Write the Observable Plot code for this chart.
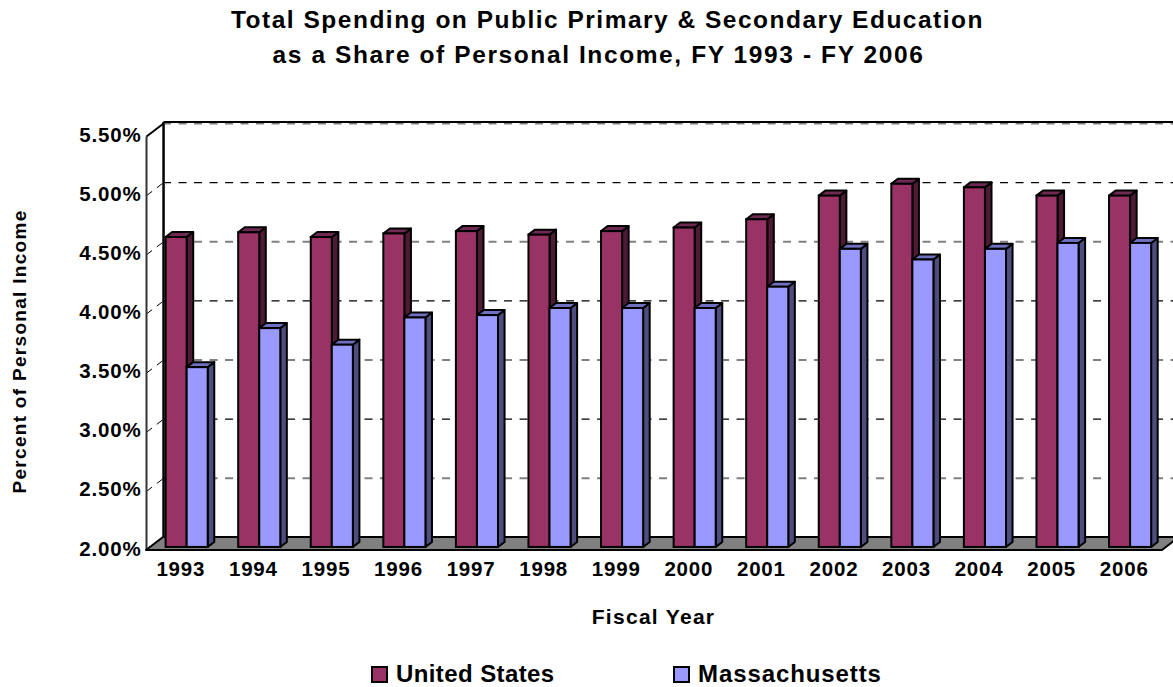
<!DOCTYPE html>
<html><head><meta charset="utf-8">
<script src="https://cdn.jsdelivr.net/npm/d3@7"></script>
<script src="https://cdn.jsdelivr.net/npm/@observablehq/plot@0.6"></script>
<style>
html,body{margin:0;padding:0;background:#fff;width:1173px;height:687px;overflow:hidden}
body{font-family:"Liberation Sans",Arial,sans-serif;font-weight:700;color:#000}
#title{height:80px;text-align:center;font-size:24.5px;line-height:35px;letter-spacing:1.5px;box-sizing:border-box;position:relative;top:2px}
#title span{position:relative;display:block;white-space:nowrap}
#legend{position:relative;height:47px}
.k{position:absolute;top:21px;font-size:24px;line-height:26px;white-space:nowrap;letter-spacing:.4px}
.k i{position:absolute;left:-25px;top:5px;width:13px;height:13px;border:2px solid #000;box-sizing:content-box}
g[aria-label="y-axis tick label"] text,g[aria-label="x-axis tick label"] text{letter-spacing:.8px}
g[aria-label="text"] text{letter-spacing:1.3px}
</style></head><body>
<div id="title"><span style="left:21px">Total Spending on Public Primary &amp; Secondary Education</span><span style="left:12px;letter-spacing:1.6px">as a Share of Personal Income, FY 1993 - FY 2006</span></div>
<div id="chart"></div>
<div id="legend">
<span class="k" style="left:396px"><i style="background:#993366"></i>United States</span>
<span class="k" style="left:698px;letter-spacing:.9px"><i style="background:#9999ff"></i>Massachusetts</span>
</div>
<script>
const years = [1993,1994,1995,1996,1997,1998,1999,2000,2001,2002,2003,2004,2005,2006];
const unitedStates = [4.62,4.66,4.62,4.65,4.67,4.64,4.67,4.70,4.77,4.97,5.07,5.04,4.97,4.97];
const massachusetts = [3.52,3.85,3.71,3.94,3.96,4.02,4.02,4.02,4.20,4.52,4.43,4.52,4.57,4.57];
const yTicks = [2,2.5,3,3.5,4,4.5,5,5.5];
const blackGrid = [3,4,5];
const grayGrid = [2.5,3.5,4.5,5.5];

const DX = 0.235, DY = 0.11;           // full depth of the chart box in scale units
const barW = 0.29, gap = 0.215;        // bar width and side gap in category units
const d0 = 0.235, d1 = 0.62;           // near and far depth of a bar (fraction of box depth)
const BASE = 2, N = years.length;

function faces(values, offset){
  const front=[], side=[], top=[];
  values.forEach((v,i)=>{
    const xa=i+gap+offset*barW, xb=xa+barW;
    front.push({x1:xa+d0*DX,x2:xb+d0*DX,y1:BASE+d0*DY,y2:v+d0*DY});
    [d0,d1].forEach(d=>side.push({k:i,x:xb+d*DX,y1:BASE+d*DY,y2:v+d*DY}));
    [d0,d1].forEach(d=>top.push({k:i,y:v+d*DY,x1:xa+d*DX,x2:xb+d*DX}));
  });
  return {front,side,top};
}
const sw = 2;
function barMarks(values, offset, cFront, cSide, cTop){
  const f = faces(values, offset);
  return [
    Plot.areaY(f.side,{x:"x",y1:"y1",y2:"y2",z:"k",fill:cSide,stroke:"#000",strokeWidth:sw}),
    Plot.areaX(f.top,{y:"y",x1:"x1",x2:"x2",z:"k",fill:cTop,stroke:"#000",strokeWidth:sw}),
    Plot.rect(f.front,{x1:"x1",x2:"x2",y1:"y1",y2:"y2",fill:cFront,stroke:"#000",strokeWidth:sw})
  ];
}
const gridTicks = yTicks.filter(t=>t>BASE);
const plot = Plot.plot({
  width:1173, height:560,
  marginLeft:146, marginRight:11, marginTop:56, marginBottom:90,
  style:{fontFamily:"'Liberation Sans',Arial,sans-serif",background:"transparent",overflow:"hidden"},
  x:{domain:[0,N],axis:null},
  y:{domain:[2,5.5],axis:null},
  marks:[
    // side-wall diagonal grid stubs
    Plot.link(gridTicks.filter(t=>t<5.5),{x1:0,y1:d=>d,x2:DX,y2:d=>d+DY,stroke:"#000",strokeWidth:1,strokeDasharray:"7 6"}),
    // back wall grid
    Plot.ruleY(blackGrid,{y:d=>d+DY,x1:DX,x2:N+DX,stroke:"#000",strokeWidth:1.2,strokeDasharray:"8 7.5"}),
    Plot.ruleY(grayGrid,{y:d=>d+DY,x1:DX,x2:N+DX,stroke:"#808080",strokeWidth:2,strokeDasharray:"8 7.5"}),
    // back wall outline
    Plot.link([0],{x1:DX,x2:N+DX,y1:5.5+DY+.012,y2:5.5+DY+.012,stroke:"#000",strokeWidth:2}),
    Plot.link([0],{x1:DX,x2:DX,y1:2+DY,y2:5.5+DY+.012,stroke:"#000",strokeWidth:2.5}),
    // left side wall edges
    Plot.link([0],{x1:0,x2:0,y1:2,y2:5.5,stroke:"#333",strokeWidth:2}),
    Plot.link([0],{x1:0,x2:DX,y1:5.5,y2:5.5+DY,stroke:"#000",strokeWidth:2}),
    // floor
    Plot.areaX([{y:2,x1:0,x2:N},{y:2+DY,x1:DX,x2:N+DX}],{y:"y",x1:"x1",x2:"x2",fill:"#808080",stroke:"#000",strokeWidth:2}),
    ...barMarks(unitedStates,0,"#993366","#4f1a36","#6e2a52"),
    ...barMarks(massachusetts,1,"#9999ff","#4d4d80","#7070c0"),
    Plot.axisY({ticks:yTicks,tickSize:0,tickPadding:5,dy:-1.5,tickFormat:d=>d.toFixed(2)+"%",fontSize:20.5,fontWeight:700,label:null,anchor:"left"}),
    Plot.axisX({ticks:d3.range(N).map(i=>i+.5),tickFormat:d=>String(years[d-.5]),tickSize:0,tickPadding:11,dx:-2,fontSize:20.5,fontWeight:700,label:null,anchor:"bottom"}),
    Plot.text(["Fiscal Year"],{frameAnchor:"bottom",dy:73,dx:-1,fontSize:21,fontWeight:700}),
    Plot.text(["Percent of Personal Income"],{frameAnchor:"left",textAnchor:"middle",rotate:-90,dx:-127,dy:8,fontSize:19,fontWeight:700})
  ]
});
plot.style.display="block";
document.getElementById("chart").appendChild(plot);
</script>
</body></html>
